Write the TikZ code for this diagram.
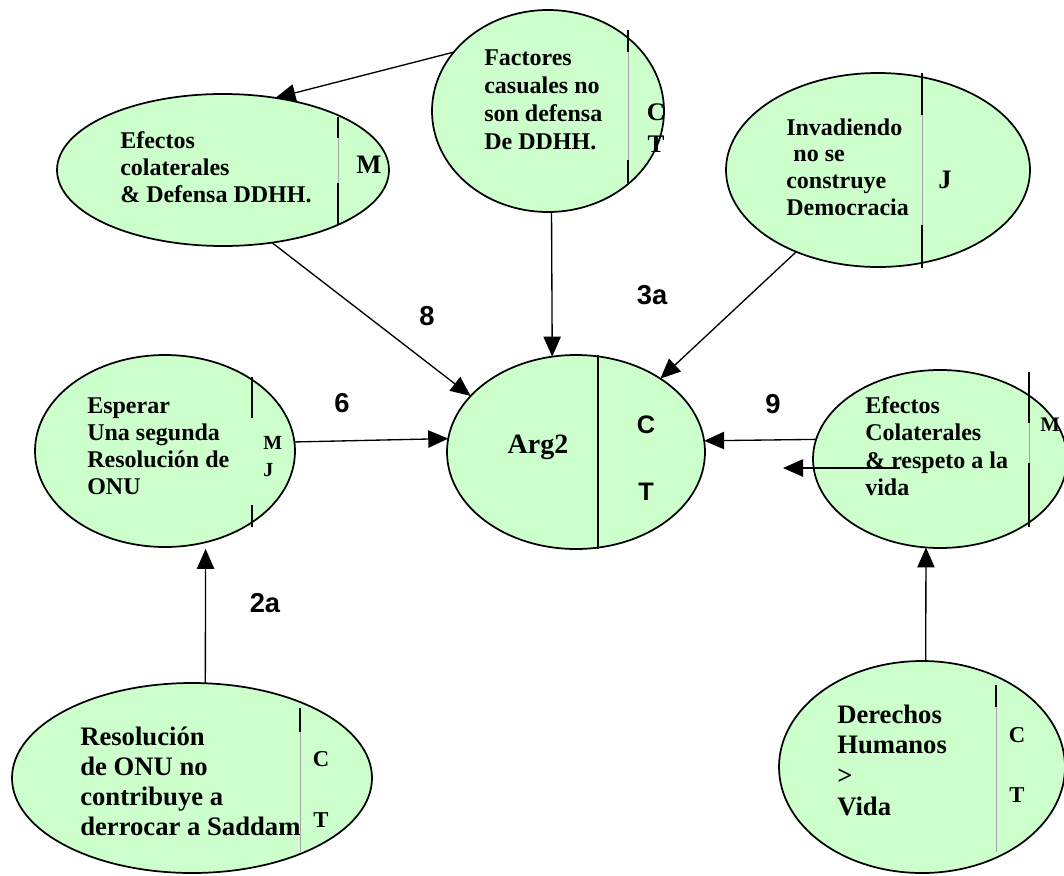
\documentclass[tikz,border=0pt]{standalone}
\usepackage{fontspec}
\setmainfont{Liberation Serif}
\newfontfamily\arial{Liberation Sans}
\usetikzlibrary{shapes.geometric,arrows.meta}
\definecolor{lg}{HTML}{CCFFCC}
\tikzset{
 ell/.style={ellipse, draw=black, fill=lg, line width=1.3pt, inner sep=0pt, outer sep=0pt},
 conn/.style={line width=1pt, -{Triangle[length=15pt,width=13pt]}},
 txt/.style={anchor=north west, inner sep=0pt, align=left},
 lett/.style={inner sep=0pt},
 lbl/.style={inner sep=0pt, font=\arial\bfseries\fontsize{20.5}{22}\selectfont},
 divb/.style={line width=1.2pt},
 divg/.style={line width=0.4pt, draw=black!35},
}
\newcommand{\st}{\rule{0pt}{0.8em}}
\newcommand{\fs}[2]{\bfseries\fontsize{#1}{#2}\selectfont}
\begin{document}
\begin{tikzpicture}[x=0.75pt,y=-0.75pt]
\useasboundingbox (0,0) rectangle (1064,875);
% ellipses
\node[ell, minimum width=249pt, minimum height=114pt] (eff) at (223,170) {};
\node[ell, minimum width=174pt, minimum height=151.5pt] (fac) at (548,111) {};
\node[ell, minimum width=228pt, minimum height=145.5pt] (inv) at (878,170) {};
\node[ell, minimum width=195pt, minimum height=144pt] (esp) at (165,451) {};
\node[ell, minimum width=193.5pt, minimum height=145.5pt] (arg) at (576,452) {};
\node[ell, minimum width=190.5pt, minimum height=133.5pt] (efr) at (940,459) {};
\node[ell, minimum width=270pt, minimum height=142.5pt] (res) at (192,778) {};
\node[ell, minimum width=214.5pt, minimum height=159pt] (der) at (922,767) {};
% dividers
\draw[divb] (338,117) -- (338,138); \draw[divg] (338,138) -- (338,183); \draw[divb] (338,183) -- (338,225);
\draw[divb] (628,30) -- (628,52); \draw[divg] (628,52) -- (628,160); \draw[divb] (628,160) -- (628,183);
\draw[divb] (922,73) -- (922,115); \draw[divg] (922,115) -- (922,225); \draw[divb] (922,225) -- (922,268);
\draw[divb] (252,377) -- (252,418); \draw[divb] (252,505) -- (252,527);
\draw[divb] (598,355) -- (598,549);
\draw[divb] (1029,372) -- (1029,423); \draw[divg] (1029,423) -- (1029,463); \draw[divb] (1029,463) -- (1029,527);
\draw[divb] (300,708) -- (300,732); \draw[divg] (300,732) -- (300,852);
\draw[divb] (996,685) -- (996,707); \draw[divg] (996,707) -- (996,852);
% texts
\node[txt, font=\fs{18}{20.25}] (teff) at (120,128.8) {\st Efectos\\colaterales\\\& Defensa DDHH.};
\node[txt, font=\fs{18}{21}] (tfac) at (484,45.8) {\st Factores\\casuales no\\son defensa\\De DDHH.};
\node[txt, font=\fs{18}{20}] (tinv) at (786,115.8) {\st Invadiendo\\\hspace{0.3em}no se\\construye\\Democracia};
\node[txt, font=\fs{18}{20.25}] (tesp) at (87,393.8) {\st Esperar\\Una segunda\\Resolución de\\ONU};
\node[txt, font=\fs{18}{20.6}] (tefr) at (865,393.8) {\st Efectos\\Colaterales\\\& respeto a la\\vida};
\node[txt, font=\fs{20}{22.5}] (tres) at (80,723.7) {\st Resolución\\de ONU no\\contribuye a\\derrocar a Saddam};
\node[txt, font=\fs{20}{23}] (tder) at (837,701.7) {\st Derechos\\Humanos\\>\\Vida};
\node[lett, font=\fs{21}{24}] (targ) at (538,447) {Arg2};
% letters
\node[lett, font=\fs{20}{22}] (meff) at (369,165) {M};
\node[lett, font=\fs{19}{22}] (cfac) at (656,112) {C};
\node[lett, font=\fs{19}{22}] (tfac2) at (656,144) {T};
\node[lett, font=\fs{20}{22}] (jinv) at (945,180) {J};
\node[lett, font=\fs{15}{16}, anchor=west] (mesp) at (263,443) {M};
\node[lett, font=\fs{15}{16}, anchor=west] (jesp) at (263,470) {J};
\node[lett, font=\fs{15.5}{16}, anchor=west] (mefr) at (1040,425) {M};
\node[lett, font=\fs{17}{20}] (cres) at (321,759) {C};
\node[lett, font=\fs{17}{20}] (tres2) at (321,820) {T};
\node[lett, font=\fs{17}{20}] (cder) at (1017,735) {C};
\node[lett, font=\fs{17}{20}] (tder2) at (1017,795) {T};
\node[lett, font=\arial\bfseries\fontsize{19}{22}\selectfont] (carg) at (646,425) {C};
\node[lett, font=\arial\bfseries\fontsize{19}{22}\selectfont] (targ2) at (646,492) {T};
% edge labels
\node[lbl] (l8) at (427,316) {8};
\node[lbl] (l3a) at (652,295) {3a};
\node[lbl] (l6) at (342,403) {6};
\node[lbl] (l9) at (773,404) {9};
\node[lbl] (l2a) at (265,603) {2a};
% connectors
\draw[conn] (fac.148.9) -- (eff.54);
\draw[conn] (eff.-56.7) -- (arg.152.6);
\draw[conn] (fac.-88) -- (arg.104);
\draw[conn] (inv.225) -- (arg.41.5);
\draw[conn] (esp.4.9) -- (arg.174.7);
\draw[conn, shorten >=5pt] (res.82.2) -- (esp.-66.3);
\draw[conn] (der.88.4) -- (efr.-99.6);
\draw[conn] (efr.171.5) -- (arg.5.3);
\coordinate (s9) at (900,468);
\coordinate (e9) at (783,468);
\draw[conn] (s9) -- (e9);
\end{tikzpicture}
\end{document}
